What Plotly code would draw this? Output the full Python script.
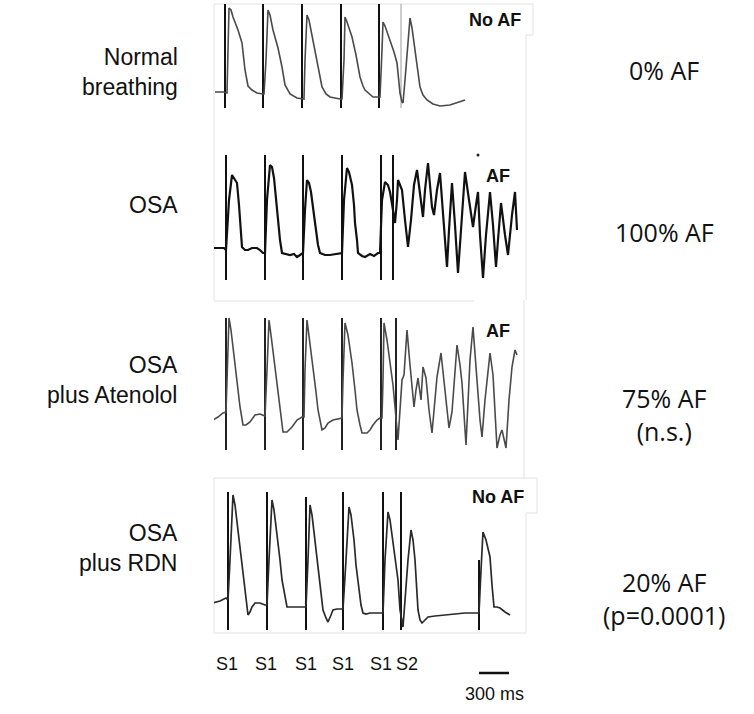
import plotly.graph_objects as go

# ---------------- data (time in ms, amplitude in arbitrary units) ----------------
p1_t = [0, 90, 120, 130, 140, 160, 180, 230, 270, 300, 330, 370, 420, 480,
        490, 510, 530, 550, 580, 630, 670, 700, 750, 820, 870,
        890, 900, 920, 940, 970, 1020, 1050, 1070, 1110, 1150, 1250,
        1270, 1290, 1300, 1320, 1370, 1410, 1450, 1480, 1500, 1580, 1630,
        1650, 1670, 1680, 1700, 1750, 1790, 1820, 1840, 1850, 1870, 1880, 1900, 1930,
        1950, 1970, 2000, 2030, 2050, 2080, 2120, 2180, 2250, 2350, 2430, 2500]
p1_v = [20, 20, 19, 72, 104, 102, 95, 82, 69, 42, 26, 22, 19, 18,
        18, 52, 102, 97, 82, 64, 45, 27, 18, 14, 13,
        13, 52, 97, 92, 77, 52, 34, 25, 18, 15, 13,
        13, 52, 95, 90, 75, 57, 35, 26, 22, 15, 15,
        15, 62, 90, 86, 72, 60, 49, 32, 19, 10, 9, 32, 72,
        94, 84, 62, 40, 25, 17, 12, 8, 6, 7, 10, 12]

p2_t = [-20, 90, 110, 140, 170, 190, 220, 240, 250, 270, 300, 330, 370, 420, 450, 480,
        500, 520, 550, 570, 590, 610, 630, 650, 670, 710, 750, 790, 820, 850, 870,
        880, 900, 920, 940, 960, 990, 1010, 1030, 1050, 1100, 1150, 1200, 1250,
        1270, 1290, 1320, 1340, 1370, 1390, 1400, 1420, 1430, 1470, 1500, 1550, 1590, 1630,
        1650, 1670, 1700, 1730, 1750, 1780, 1800, 1820, 1830, 1850, 1870, 1900, 1930,
        1960, 1990, 2020, 2050, 2080, 2100, 2130, 2150, 2170, 2190, 2220, 2250, 2280,
        2320, 2340, 2370, 2400, 2430, 2460, 2500, 2540, 2580, 2610, 2630, 2650, 2680,
        2710, 2750, 2780, 2810, 2830, 2860, 2900, 2930, 2970, 3000, 3020]
p2_v = [42, 42, 40, 90, 115, 112, 107, 85, 67, 43, 40, 40, 42, 42, 40, 37,
        37, 90, 125, 123, 112, 90, 70, 50, 37, 36, 35, 36, 33, 35, 37,
        37, 80, 110, 107, 98, 75, 57, 45, 37, 35, 35, 36, 37,
        37, 90, 122, 118, 105, 85, 67, 50, 37, 34, 33, 36, 34, 37,
        37, 90, 108, 105, 98, 80, 67, 90, 110, 105, 100, 70, 43,
        70, 105, 120, 95, 73, 100, 127, 105, 83, 75, 100, 117, 80,
        23, 60, 107, 65, 17, 60, 118, 90, 63, 85, 98, 55, 12,
        55, 98, 65, 23, 50, 87, 55, 35, 75, 98, 60]

p3_t = [-20, 30, 80, 110, 120, 140, 160, 200, 230, 250, 280, 310, 350, 380, 400, 450, 480,
        500, 520, 540, 560, 600, 630, 650, 680, 720, 770, 820, 870,
        890, 900, 920, 940, 980, 1010, 1030, 1070, 1100, 1130, 1180, 1250,
        1270, 1280, 1300, 1330, 1370, 1400, 1420, 1450, 1470, 1520, 1550, 1580, 1620, 1650,
        1670, 1680, 1690, 1720, 1750, 1780, 1800, 1830, 1850, 1870, 1890, 1920, 1950,
        1990, 2010, 2030, 2060, 2080, 2110, 2140, 2170, 2200, 2220, 2260, 2300, 2340,
        2370, 2400, 2420, 2450, 2470, 2510, 2530, 2550, 2580, 2620, 2650, 2670, 2700,
        2750, 2780, 2820, 2850, 2870, 2890, 2910, 2940, 2970, 3000, 3020]
p3_v = [35, 38, 42, 43, 75, 137, 125, 92, 65, 48, 30, 30, 33, 38, 40, 41, 40,
        39, 85, 135, 120, 88, 60, 42, 23, 23, 28, 35, 38,
        38, 85, 135, 120, 88, 63, 45, 25, 27, 32, 35, 37,
        37, 75, 132, 120, 92, 65, 45, 30, 22, 22, 25, 30, 35, 37,
        37, 75, 132, 115, 95, 70, 48, 15, 45, 75, 80, 125, 90,
        48, 65, 77, 55, 88, 77, 45, 22, 55, 78, 102, 65, 27,
        43, 85, 110, 90, 72, 10, 55, 95, 128, 72, 35, 18, 55,
        102, 80, 7, 20, 25, 17, 7, 55, 88, 105, 100]

p4_t = [-20, 50, 110, 130, 150, 180, 200, 230, 260, 280, 310, 330, 350, 370, 400, 450, 500,
        520, 540, 570, 590, 620, 650, 670, 700, 720, 770, 820, 900,
        910, 930, 950, 970, 1000, 1030, 1050, 1080, 1110, 1130, 1160, 1180, 1220, 1270,
        1280, 1310, 1340, 1360, 1390, 1410, 1430, 1460, 1480, 1510, 1550, 1610, 1670,
        1680, 1700, 1730, 1750, 1780, 1810, 1830, 1850, 1880, 1900, 1930, 1960, 1980,
        2000, 2020, 2030, 2050, 2070, 2100, 2130, 2200, 2280, 2400, 2500, 2580, 2640,
        2660, 2680, 2710, 2750, 2770, 2790, 2820, 2850, 2900, 2950]
p4_v = [37, 39, 42, 40, 80, 145, 135, 110, 85, 63, 40, 25, 28, 33, 37, 37, 35,
        35, 80, 140, 130, 107, 80, 60, 42, 33, 33, 33, 33,
        33, 80, 135, 125, 100, 75, 57, 30, 22, 18, 25, 30, 31, 31,
        31, 80, 133, 125, 100, 75, 57, 35, 27, 26, 27, 27, 27,
        27, 80, 128, 120, 95, 75, 60, 30, 13, 40, 80, 110, 100,
        80, 50, 30, 20, 17, 20, 23, 24, 25, 26, 27, 27, 27,
        70, 108, 100, 83, 55, 33, 33, 32, 28, 25]

# stimulus artefacts (ms) and their vertical extents (amplitude units)
p1_s1 = [100, 480, 870, 1260, 1640]
p1_s2 = [1860]
p1_stim_lo, p1_stim_hi = 4, 108
p2_stim = [110, 500, 880, 1270, 1660, 1780]
p2_stim_lo, p2_stim_hi = 10, 135
p3_stim = [110, 500, 880, 1270, 1660, 1810]
p3_stim_lo, p3_stim_hi = 5, 137
p4_stim = [130, 520, 910, 1280, 1680, 1860, 2640]
p4_stim_hi = [148, 148, 143, 148, 148, 148, 80]
p4_stim_lo = 10
p2_dot_t, p2_dot_v = [2630], [135]

stim_labels = ["S1", "S1", "S1", "S1", "S1", "S2"]
stim_label_t = [120, 510, 910, 1280, 1660, 1920]
scale_ms = 300
scale_start = 2640

row_labels = ["Normal<br>breathing", "OSA", "OSA<br>plus Atenolol", "OSA<br>plus RDN"]
panel_tags = ["No AF", "AF", "AF", "No AF"]
result_labels = ["0% AF", "100% AF", "75% AF<br>(n.s.)", "20% AF<br>(p=0.0001)"]

# ---------------- layout helpers ----------------
W, H = 754, 714
def fx(x):
    return x / W
def fy(y):
    return 1 - y / H

# panel boxes in pixels (top, bottom)
panels = [(0, 112), (140, 290), (300, 455), (470, 640)]
X_LEFT, X_RIGHT = 214, 526
T_RANGE = [-10, 3110]

fig = go.Figure()

def stim_xy(times, lo, hi):
    xs, ys = [], []
    his = hi if isinstance(hi, list) else [hi] * len(times)
    for t, h in zip(times, his):
        xs += [t, t, None]
        ys += [lo, h, None]
    return xs, ys

# panel 1
x, y = stim_xy(p1_s1, p1_stim_lo, p1_stim_hi)
fig.add_trace(go.Scatter(x=x, y=y, mode="lines", line=dict(color="#111", width=2), xaxis="x", yaxis="y"))
x, y = stim_xy(p1_s2, p1_stim_lo, p1_stim_hi)
fig.add_trace(go.Scatter(x=x, y=y, mode="lines", line=dict(color="#9a9a9a", width=1), xaxis="x", yaxis="y"))
fig.add_trace(go.Scatter(x=p1_t, y=p1_v, mode="lines", line=dict(color="#4a4a4a", width=1.6), xaxis="x", yaxis="y"))

# panel 2
x, y = stim_xy(p2_stim, p2_stim_lo, p2_stim_hi)
fig.add_trace(go.Scatter(x=x, y=y, mode="lines", line=dict(color="#111", width=2), xaxis="x2", yaxis="y2"))
fig.add_trace(go.Scatter(x=p2_t, y=p2_v, mode="lines", line=dict(color="#111", width=2.2), xaxis="x2", yaxis="y2"))
fig.add_trace(go.Scatter(x=p2_dot_t, y=p2_dot_v, mode="markers", marker=dict(color="#222", size=3), xaxis="x2", yaxis="y2"))

# panel 3
x, y = stim_xy(p3_stim, p3_stim_lo, p3_stim_hi)
fig.add_trace(go.Scatter(x=x, y=y, mode="lines", line=dict(color="#222", width=2), xaxis="x3", yaxis="y3"))
fig.add_trace(go.Scatter(x=p3_t, y=p3_v, mode="lines", line=dict(color="#4a4a4a", width=1.6), xaxis="x3", yaxis="y3"))

# panel 4
x, y = stim_xy(p4_stim, p4_stim_lo, p4_stim_hi)
fig.add_trace(go.Scatter(x=x, y=y, mode="lines", line=dict(color="#111", width=2), xaxis="x4", yaxis="y4"))
fig.add_trace(go.Scatter(x=p4_t, y=p4_v, mode="lines", line=dict(color="#2a2a2a", width=1.7), xaxis="x4", yaxis="y4"))

layout = dict(width=W, height=H, margin=dict(l=0, r=0, t=0, b=0),
              paper_bgcolor="white", plot_bgcolor="white", showlegend=False)
for i, (top, bot) in enumerate(panels):
    sfx = "" if i == 0 else str(i + 1)
    layout["xaxis" + sfx] = dict(domain=[fx(X_LEFT), fx(X_RIGHT)], range=T_RANGE, visible=False,
                                 anchor="y" + sfx, fixedrange=True)
    layout["yaxis" + sfx] = dict(domain=[fy(bot), fy(top)], range=[0, bot - top], visible=False,
                                 anchor="x" + sfx, fixedrange=True)
fig.update_layout(**layout)

ann = []
# left row labels (right aligned)
left_y = [72, 205, 380, 548]
for txt, yy in zip(row_labels, left_y):
    ann.append(dict(text=txt, x=fx(180), y=fy(yy), xref="paper", yref="paper", xanchor="right",
                    yanchor="middle", align="right", showarrow=False,
                    font=dict(family="Liberation Sans, Arial", size=23, color="#111")))
# panel tags
tag_pos = [(495, 20), (498, 176), (498, 331), (498, 497)]
for txt, (xx, yy) in zip(panel_tags, tag_pos):
    ann.append(dict(text="<b>%s</b>" % txt, x=fx(xx), y=fy(yy), xref="paper", yref="paper",
                    xanchor="center", yanchor="middle", showarrow=False,
                    font=dict(family="Liberation Sans, Arial", size=18, color="#111")))
# right result labels
right_y = [70, 232, 414, 598]
for txt, yy in zip(result_labels, right_y):
    ann.append(dict(text=txt, x=fx(664), y=fy(yy), xref="paper", yref="paper", xanchor="center",
                    yanchor="middle", align="center", showarrow=False,
                    font=dict(family="Open Sans", size=25, color="#111")))
# stimulus labels under the traces
for txt, t in zip(stim_labels, stim_label_t):
    ann.append(dict(text=txt, x=t, y=fy(664), xref="x4", yref="paper", xanchor="center",
                    yanchor="middle", showarrow=False,
                    font=dict(family="Liberation Sans, Arial", size=18, color="#111")))
ann.append(dict(text="%d ms" % scale_ms, x=scale_start + scale_ms / 2, y=fy(694), xref="x4", yref="paper",
                xanchor="center", yanchor="middle", showarrow=False,
                font=dict(family="Liberation Sans, Arial", size=18, color="#111")))
fig.update_layout(annotations=ann)

shapes = []
# scale bar
shapes.append(dict(type="line", xref="x4", yref="paper", x0=scale_start, x1=scale_start + scale_ms,
                   y0=fy(673), y1=fy(673), line=dict(color="#111", width=2.5)))
# faint frames around the recordings
frame = dict(color="#e2e2e2", width=1)
def seg(x0, y0, x1, y1):
    return dict(type="line", xref="paper", yref="paper", x0=fx(x0), y0=fy(y0), x1=fx(x1), y1=fy(y1),
                line=frame, layer="below")
shapes += [seg(214, 4, 533, 4), seg(533, 4, 533, 35), seg(533, 35, 526, 35), seg(526, 35, 526, 300),
           seg(214, 4, 214, 300), seg(214, 301, 474, 301), seg(524, 300, 524, 478),
           seg(214, 478, 537, 478), seg(537, 478, 537, 513), seg(537, 513, 526, 513),
           seg(526, 513, 526, 633), seg(214, 633, 526, 633), seg(214, 478, 214, 633)]
fig.update_layout(shapes=shapes)

fig.write_html("out.html", config={"displayModeBar": False},
               post_script="document.body.style.margin='0px';")
